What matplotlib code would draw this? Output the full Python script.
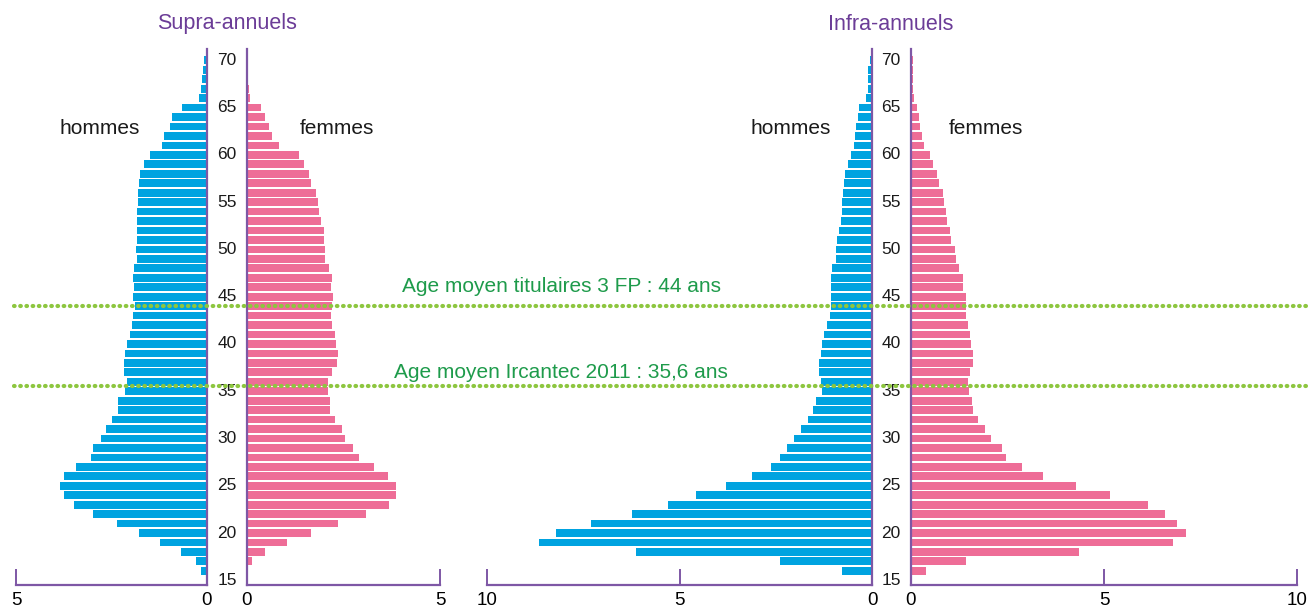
import numpy as np
import matplotlib.pyplot as plt
from matplotlib.lines import Line2D
import matplotlib.transforms as mtransforms

plt.rcParams['font.family'] = ['Liberation Sans', 'DejaVu Sans']

# ages 70 down to 16
ages = np.arange(70, 15, -1)

supra_hommes = [0.08, 0.10, 0.13, 0.16, 0.21, 0.65, 0.92, 0.97, 1.13, 1.18,
                1.49, 1.65, 1.75, 1.78, 1.81, 1.81, 1.83, 1.83, 1.83, 1.83,
                1.86, 1.83, 1.91, 1.94, 1.91, 1.94, 1.88, 1.94, 1.96, 2.02,
                2.09, 2.15, 2.17, 2.17, 2.09, 2.15, 2.33, 2.33, 2.49, 2.64,
                2.77, 2.98, 3.04, 3.43, 3.74, 3.85, 3.74, 3.48, 2.98, 2.36,
                1.78, 1.23, 0.68, 0.29, 0.16]
supra_femmes = [0.03, 0.03, 0.03, 0.05, 0.08, 0.36, 0.47, 0.57, 0.65, 0.83,
                1.35, 1.48, 1.61, 1.66, 1.79, 1.84, 1.87, 1.92, 2.00, 2.00,
                2.03, 2.03, 2.13, 2.21, 2.18, 2.23, 2.19, 2.18, 2.21, 2.28,
                2.31, 2.36, 2.34, 2.21, 2.10, 2.10, 2.15, 2.15, 2.28, 2.46,
                2.54, 2.75, 2.90, 3.29, 3.65, 3.86, 3.86, 3.68, 3.08, 2.36,
                1.66, 1.04, 0.47, 0.13, 0.03]
infra_hommes = [0.05, 0.10, 0.10, 0.10, 0.16, 0.34, 0.36, 0.42, 0.44, 0.47,
                0.55, 0.62, 0.70, 0.73, 0.75, 0.78, 0.78, 0.81, 0.86, 0.91,
                0.94, 0.94, 1.04, 1.06, 1.06, 1.06, 1.06, 1.09, 1.16, 1.24,
                1.30, 1.32, 1.37, 1.37, 1.32, 1.31, 1.45, 1.52, 1.66, 1.84,
                2.02, 2.20, 2.38, 2.62, 3.11, 3.79, 4.57, 5.30, 6.23, 7.29,
                8.21, 8.65, 6.14, 2.38, 0.79]
infra_femmes = [0.05, 0.05, 0.05, 0.05, 0.08, 0.16, 0.21, 0.23, 0.29, 0.34,
                0.49, 0.57, 0.68, 0.73, 0.83, 0.86, 0.91, 0.94, 1.01, 1.04,
                1.14, 1.17, 1.25, 1.35, 1.35, 1.43, 1.43, 1.43, 1.47, 1.53,
                1.56, 1.61, 1.61, 1.53, 1.47, 1.50, 1.58, 1.61, 1.74, 1.92,
                2.06, 2.36, 2.46, 2.88, 3.42, 4.28, 5.15, 6.14, 6.58, 6.89,
                7.13, 6.79, 4.35, 1.43, 0.39]

age_labels = [15, 20, 25, 30, 35, 40, 45, 50, 55, 60, 65, 70]
age_moyen_fp = 44
age_moyen_ircantec = 35.6

blue = '#00A3E0'
pink = '#EE6D97'
purple = '#7E57A5'
title_col = '#6B3C97'
green_txt = '#1E9B4B'
green_line = '#8DC63F'

W, H = 1311, 608
fig = plt.figure(figsize=(W / 100, H / 100), dpi=100)

y_top, y_bot = 49, 585


def make_ax(x0, x1):
    return fig.add_axes([x0 / W, (H - y_bot) / H, (x1 - x0) / W, (y_bot - y_top) / H])


def style(ax, side, xmax, ticks):
    ax.set_ylim(14.5, 71.2)
    if side == 'men':
        ax.set_xlim(xmax, 0)
        keep = 'right'
    else:
        ax.set_xlim(0, xmax)
        keep = 'left'
    for s in ['top', 'bottom', 'left', 'right']:
        ax.spines[s].set_visible(s in ('bottom', keep))
        ax.spines[s].set_color(purple)
        ax.spines[s].set_linewidth(1.6)
    ax.set_yticks([])
    ax.set_xticks(ticks)
    ax.set_xticklabels([str(t) for t in ticks])
    ax.tick_params(axis='x', direction='in', length=11.5, width=1.4, color=purple,
                   labelsize=13.5, pad=5)
    ax.patch.set_alpha(0)


panels = [
    (16, 207, 247, 440, 5, [5, 0], [0, 5], supra_hommes, supra_femmes, 227, 'Supra-annuels'),
    (487, 872, 911, 1297, 10, [10, 5, 0], [0, 5, 10], infra_hommes, infra_femmes, 891, 'Infra-annuels'),
]

axes = []
for mx0, mx1, fx0, fx1, xmax, mt, ft, hom, fem, cx, title in panels:
    axm = make_ax(mx0, mx1)
    axf = make_ax(fx0, fx1)
    axm.barh(ages, hom, height=0.82, color=blue, zorder=2)
    axf.barh(ages, fem, height=0.82, color=pink, zorder=2)
    style(axm, 'men', xmax, mt)
    style(axf, 'women', xmax, ft)
    trans = mtransforms.blended_transform_factory(fig.transFigure, axm.transData)
    for a in age_labels:
        fig.text(cx / W, a, str(a), transform=trans, ha='center', va='center',
                 fontsize=12.5, color='#1a1a1a')
    fig.text(cx / W, 1 - 24 / H, title, ha='center', va='center', fontsize=15.5,
             color=title_col)
    axes.append(axm)

fig.text(100 / W, 1 - 129 / H, 'hommes', ha='center', va='center', fontsize=15, color='#1a1a1a')
fig.text(337 / W, 1 - 129 / H, 'femmes', ha='center', va='center', fontsize=15, color='#1a1a1a')
fig.text(791 / W, 1 - 129 / H, 'hommes', ha='center', va='center', fontsize=15, color='#1a1a1a')
fig.text(986 / W, 1 - 129 / H, 'femmes', ha='center', va='center', fontsize=15, color='#1a1a1a')

# average age lines across the whole figure
ltrans = mtransforms.blended_transform_factory(fig.transFigure, axes[0].transData)
for age_m, label, ty in [(age_moyen_fp, 'Age moyen titulaires 3 FP : 44 ans', 286),
                         (age_moyen_ircantec, 'Age moyen Ircantec 2011 : 35,6 ans', 372)]:
    ln = Line2D([14 / W, 1.0], [age_m, age_m], transform=ltrans, color=green_line,
                linewidth=3.0, linestyle=(0, (0.15, 1.34)), dash_capstyle='round', zorder=10)
    fig.add_artist(ln)
    fig.text(561 / W, 1 - ty / H, label, ha='center', va='center',
             fontsize=15, color=green_txt)

fig.savefig('out.png', dpi=100)
